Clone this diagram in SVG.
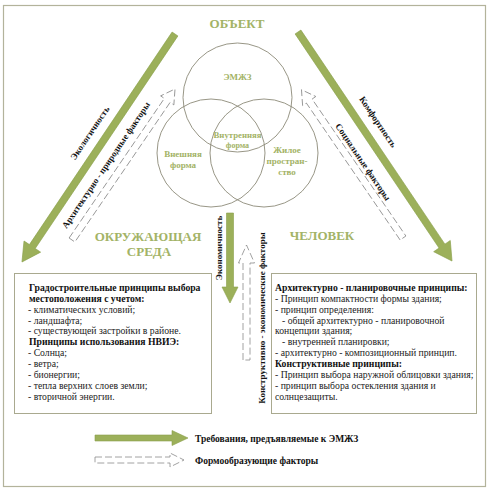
<svg xmlns="http://www.w3.org/2000/svg" width="491" height="491" viewBox="0 0 491 491" font-family="'Liberation Serif', 'DejaVu Serif', serif">
<style>
.frame{fill:#fff;stroke:#b3b39b;stroke-width:1.2;}
.box{fill:#fff;stroke:#a9a98f;stroke-width:1;}
.circ{fill:none;stroke:#8c8a78;stroke-width:0.9;}
.g{fill:#9cb05a;stroke:#8aa04a;stroke-width:0.6;}
.d{fill:#fff;stroke:#8a8a8a;stroke-width:0.8;stroke-dasharray:7 3;}
.title{font-size:13px;font-weight:bold;fill:#a3b366;text-anchor:middle;}
.ctext{font-size:9px;font-weight:bold;fill:#a3b366;text-anchor:middle;}
.lbl{font-size:9px;font-weight:bold;fill:#111;text-anchor:middle;}
.bt{font-size:9.7px;fill:#222;}
.bb{font-size:9.7px;font-weight:bold;fill:#111;}
.leg{font-size:9.5px;font-weight:bold;fill:#111;}
</style>
<rect class="frame" x="3.5" y="5.5" width="482" height="481"/>

<g id="connectors">
  <path class="g" transform="translate(175,34) rotate(123.87)" d="M0,-3.5 L256,-3.5 L256,-10 L274.6,0 L256,10 L256,3.5 L0,3.5 Z"/>
  <path class="g" transform="translate(298,32) rotate(56.08)" d="M0,-3.5 L258,-3.5 L258,-10 L276,0 L258,10 L258,3.5 L0,3.5 Z"/>
  <path class="d" transform="translate(72,240) rotate(-55.7)" d="M0,-3.5 L169,-3.5 L169,-8 L182.8,0 L169,8 L169,3.5 L0,3.5 Z"/>
  <path class="d" transform="translate(403,238) rotate(-124.4)" d="M0,-3.5 L166,-3.5 L166,-8 L179.7,0 L166,8 L166,3.5 L0,3.5 Z"/>
  <path class="g" transform="translate(230,213) rotate(90)" d="M0,-3.5 L74,-3.5 L74,-8 L90,0 L74,8 L74,3.5 L0,3.5 Z"/>
  <path class="d" transform="translate(246.5,360) rotate(-90)" d="M0,-3.5 L97,-3.5 L97,-8 L115,0 L97,8 L97,3.5 L0,3.5 Z"/>
  <text class="lbl" transform="translate(90,133) rotate(-56.1)" y="3">Экологичность</text>
  <text class="lbl" transform="translate(106,165) rotate(-56)" y="3">Архитектурно - природные факторы</text>
  <text class="lbl" transform="translate(378,122) rotate(56)" y="3">Комфортность</text>
  <text class="lbl" transform="translate(363,162) rotate(56)" y="3">Социальные факторы</text>
  <text class="lbl" transform="translate(219,248) rotate(-90)" y="3">Экономичность</text>
  <text class="lbl" transform="translate(262,318) rotate(-90)" y="3">Конструктивно - экономические факторы</text>
</g>

<g id="title-object"><text class="title" x="237" y="28">ОБЪЕКТ</text></g>

<g id="circle-emzz">
  <circle class="circ" cx="237.5" cy="97.5" r="54.5"/>
  <text class="ctext" x="237.5" y="80">ЭМЖЗ</text>
</g>
<g id="circle-outer">
  <circle class="circ" cx="211" cy="153" r="54"/>
  <text class="ctext" x="183" y="157">Внешняя</text>
  <text class="ctext" x="183" y="168">форма</text>
</g>
<g id="circle-living">
  <circle class="circ" cx="264" cy="153" r="54"/>
  <text class="ctext" x="287" y="153">Жилое</text>
  <text class="ctext" x="287" y="164">простран-</text>
  <text class="ctext" x="287" y="175">ство</text>
</g>
<g id="inner-form">
  <text class="ctext" x="237.5" y="138" style="font-size:8px" textLength="48" lengthAdjust="spacingAndGlyphs">Внутренняя</text>
  <text class="ctext" x="237.5" y="148" style="font-size:8px">форма</text>
</g>

<g id="title-env">
  <text class="title" x="148" y="241">ОКРУЖАЮЩАЯ</text>
  <text class="title" x="149" y="256">СРЕДА</text>
</g>
<g id="title-man"><text class="title" x="322" y="240">ЧЕЛОВЕК</text></g>

<g id="box-left">
  <rect class="box" x="14.5" y="273.5" width="197" height="140"/>
  <text class="bb" x="29" y="291">Градостроительные принципы выбора</text>
  <text class="bb" x="29" y="302">местоположения с учетом:</text>
  <text class="bt" x="28" y="313">- климатических условий;</text>
  <text class="bt" x="28" y="324">- ландшафта;</text>
  <text class="bt" x="28" y="334">- существующей застройки в районе.</text>
  <text class="bb" x="29" y="345">Принципы использования НВИЭ:</text>
  <text class="bt" x="28" y="356">- Солнца;</text>
  <text class="bt" x="28" y="367">- ветра;</text>
  <text class="bt" x="28" y="378">- бионергии;</text>
  <text class="bt" x="28" y="389">- тепла верхних слоев земли;</text>
  <text class="bt" x="28" y="400">- вторичной энергии.</text>
</g>

<g id="box-right">
  <rect class="box" x="271.5" y="273.5" width="205" height="140"/>
  <text class="bb" x="275" y="291">Архитектурно - планировочные принципы:</text>
  <text class="bt" x="275" y="302">- Принцип компактности формы здания;</text>
  <text class="bt" x="275" y="313">- принцип определения:</text>
  <text class="bt" x="282" y="324">- общей архитектурно - планировочной</text>
  <text class="bt" x="275" y="334">концепции здания;</text>
  <text class="bt" x="282" y="345">- внутренней планировки;</text>
  <text class="bt" x="275" y="356">- архитектурно - композиционный принцип.</text>
  <text class="bb" x="275" y="367">Конструктивные принципы:</text>
  <text class="bt" x="275" y="378">- Принцип выбора наружной облицовки здания;</text>
  <text class="bt" x="275" y="389">- принцип выбора остекления здания и</text>
  <text class="bt" x="275" y="400">солнцезащиты.</text>
</g>

<g id="legend">
  <path class="g" d="M95,435 L172,435 L172,430.5 L188,438 L172,445.5 L172,441 L95,441 Z"/>
  <text class="leg" x="195" y="442">Требования, предъявляемые к ЭМЖЗ</text>
  <path class="d" d="M95,457 L170,457 L170,453 L184,460 L170,467 L170,463 L95,463 Z"/>
  <text class="leg" x="195" y="464">Формообразующие факторы</text>
</g>
</svg>
